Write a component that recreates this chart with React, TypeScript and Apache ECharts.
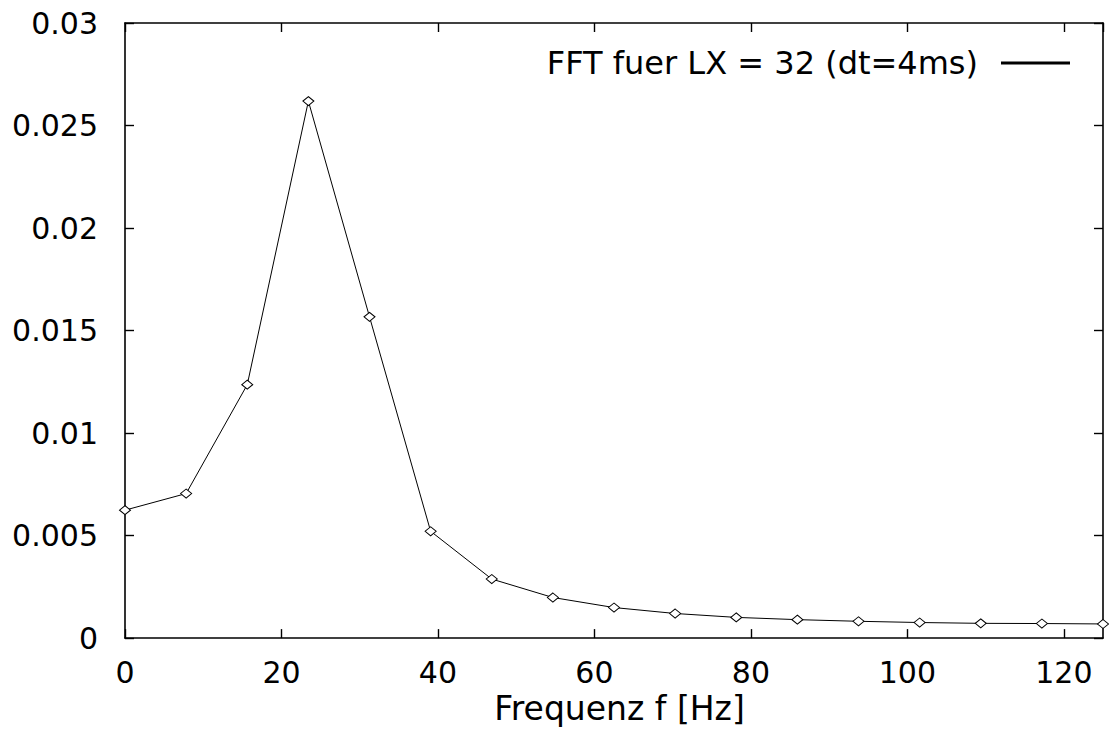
import React, { useEffect, useRef } from "react";
import * as echarts from "echarts";

const freqs = [0, 7.8125, 15.625, 23.4375, 31.25, 39.0625, 46.875, 54.6875, 62.5, 70.3125, 78.125, 85.9375, 93.75, 101.5625, 109.375, 117.1875, 125];
const amps = [0.00624, 0.00705, 0.01236, 0.02619, 0.01567, 0.00521, 0.00288, 0.00198, 0.00149, 0.0012, 0.00101, 0.0009, 0.00082, 0.00076, 0.00072, 0.00071, 0.00069];
const seriesName = "FFT fuer LX = 32 (dt=4ms)";
const xTitle = "Frequenz f [Hz]";

const FONT = "DejaVu Sans";

export default function App() {
  const ref = useRef<HTMLDivElement>(null);
  useEffect(() => {
    if (!ref.current) return;
    const chart = echarts.init(ref.current, null, { renderer: "svg" });
    const axisLine = { show: true, onZero: false, lineStyle: { color: "#000", width: 1.6 } };
    const tick = { show: true, inside: true, length: 9, lineStyle: { color: "#000", width: 1.4 } };
    chart.setOption({
      animation: false,
      backgroundColor: "#fff",
      grid: { left: 125, right: 6, top: 23, bottom: 83, containLabel: false },
      legend: {
        show: true,
        data: [{ name: seriesName, icon: "rect" }],
        right: 39,
        top: 47,
        padding: 0,
        align: "right",
        itemWidth: 67,
        itemHeight: 1,
        itemStyle: { color: "#222" },
        textStyle: { fontFamily: FONT, fontSize: 32, color: "#000", padding: [0, 19, 0, 0] },
      },
      xAxis: [
        {
          type: "value",
          min: 0,
          max: 125,
          interval: 20,
          position: "bottom",
          axisLine,
          axisTick: tick,
          splitLine: { show: false },
          axisLabel: { show: true, showMaxLabel: false, margin: 19, fontFamily: FONT, fontSize: 30, color: "#000" },
          name: xTitle,
          nameLocation: "middle",
          nameGap: 42,
          nameTextStyle: { fontFamily: FONT, fontSize: 33, color: "#000", padding: [0, 0, 0, 11] },
        },
        {
          type: "value",
          min: 0,
          max: 125,
          interval: 20,
          position: "top",
          axisLine,
          axisTick: tick,
          splitLine: { show: false },
          axisLabel: { show: false },
        },
      ],
      yAxis: [
        {
          type: "value",
          min: 0,
          max: 0.03,
          interval: 0.005,
          position: "left",
          axisLine,
          axisTick: tick,
          splitLine: { show: false },
          axisLabel: {
            show: true,
            margin: 27,
            fontFamily: FONT,
            fontSize: 30,
            color: "#000",
            formatter: (v: number) => String(+v.toFixed(3)),
          },
        },
        {
          type: "value",
          min: 0,
          max: 0.03,
          interval: 0.005,
          position: "right",
          axisLine,
          axisTick: tick,
          splitLine: { show: false },
          axisLabel: { show: false },
        },
      ],
      series: [
        {
          name: seriesName,
          type: "line",
          xAxisIndex: 0,
          yAxisIndex: 0,
          data: freqs.map((f, i) => [f, amps[i]]),
          color: "#000",
          lineStyle: { color: "#000", width: 1 },
          symbol: "diamond",
          symbolSize: [11, 9],
          showAllSymbol: true,
          itemStyle: { color: "#fff", borderColor: "#000", borderWidth: 1 },
          clip: false,
        },
      ],
    });
    return () => chart.dispose();
  }, []);
  return (
    <div
      ref={ref}
      style={{ position: "fixed", left: 0, top: 0, width: 1109, height: 730, background: "#fff" }}
    />
  );
}
